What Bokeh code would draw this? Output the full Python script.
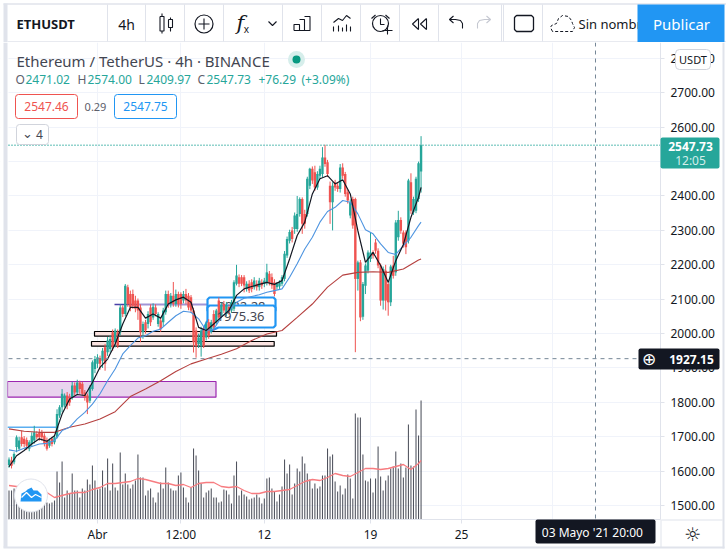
from bokeh.plotting import figure
from bokeh.layouts import column
from bokeh.models import (Label, BoxAnnotation, FixedTicker, NumeralTickFormatter, Range1d, ColumnDataSource)
from bokeh.core.properties import value
from bokeh.embed import file_html
from bokeh.resources import INLINE

# ---------- data ----------
opens = [1618,1631,1626,1670,1665,1699,1694,1691,1665,1679,
 1689,1708,1713,1713,1703,1689,1674,1694,1684,1699,
 1762,1786,1791,1820,1815,1815,1849,1829,1858,1854,
 1829,1820,1805,1839,1897,1912,1929,1921,1960,1946,
 1955,2004,1975,2004,2004,2076,2057,2135,2115,2115,
 2096,2096,2076,2004,2033,2028,2076,2047,2076,2028,
 2038,2033,2062,2115,2086,2110,2086,2115,2115,2096,
 2115,2110,2106,2067,2009,1970,1965,2009,1989,2033,
 2009,2057,2033,2096,2052,2086,2057,2077,2067,2072,
 2145,2164,2164,2164,2130,2145,2149,2135,2145,2135,
 2149,2145,2149,2174,2164,2149,2135,2137,2145,2159,
 2227,2270,2300,2304,2304,2348,2391,2348,2348,2430,
 2479,2469,2425,2459,2464,2512,2498,2430,2382,2440,
 2430,2420,2483,2464,2411,2343,2391,2391,2159,2207,
 2049,2139,2183,2217,2236,2265,2241,2198,2096,2183,
 2144,2091,2198,2178,2280,2330,2294,2294,2270,2440,
 2353,2357,2391,2471.02]
closes = [1634,1616,1650,1699,1689,1679,1679,1674,1684,1703,
 1713,1699,1699,1699,1679,1665,1689,1679,1699,1766,
 1786,1825,1820,1791,1800,1849,1829,1858,1839,1825,
 1815,1800,1844,1917,1926,1931,1912,1950,1912,1980,
 1984,1960,2009,1965,2076,2057,2139,2086,2076,2081,
 2072,2067,2004,2028,2009,2057,2033,2078,2057,2057,
 2013,2067,2115,2086,2110,2086,2115,2086,2086,2115,
 2096,2076,2067,1975,1965,1989,2009,1965,2028,1994,
 2033,2018,2067,2047,2082,2067,2082,2062,2091,2149,
 2169,2145,2145,2140,2145,2125,2130,2154,2135,2154,
 2140,2154,2178,2149,2140,2115,2145,2149,2164,2232,
 2275,2295,2275,2343,2348,2391,2319,2319,2450,2479,
 2445,2425,2464,2479,2512,2493,2464,2382,2430,2425,
 2420,2483,2459,2406,2387,2382,2314,2159,2207,2047,
 2144,2198,2236,2236,2227,2241,2198,2096,2188,2096,
 2091,2195,2168,2323,2330,2299,2261,2251,2445,2357,
 2391,2450,2495,2547.73]
highs = [1640,1642,1655,1704,1700,1718,1702,1698,1690,1713,
 1732,1716,1723,1720,1710,1698,1695,1700,1703,1780,
 1792,1839,1826,1830,1825,1860,1858,1866,1863,1860,
 1836,1826,1850,1922,1935,1940,1936,1958,1970,1990,
 1995,2012,2015,2012,2085,2082,2144,2142,2125,2128,
 2110,2102,2085,2035,2040,2065,2085,2088,2085,2062,
 2046,2075,2125,2125,2118,2150,2128,2122,2120,2124,
 2130,2118,2112,2075,2018,2000,2020,2018,2035,2042,
 2040,2068,2072,2105,2090,2095,2092,2085,2098,2155,
 2200,2172,2170,2170,2152,2155,2158,2164,2155,2162,
 2158,2162,2203,2182,2175,2158,2150,2155,2170,2240,
 2282,2302,2310,2352,2400,2396,2396,2360,2456,2482,
 2486,2488,2472,2488,2542,2549,2505,2442,2440,2447,
 2438,2493,2495,2470,2418,2390,2398,2395,2212,2214,
 2150,2204,2242,2294,2242,2275,2248,2204,2195,2200,
 2150,2200,2226,2330,2357,2338,2300,2300,2450,2466,
 2398,2456,2500,2574.00]
lows = [1610,1608,1620,1655,1660,1672,1670,1662,1658,1670,
 1680,1692,1689,1689,1672,1660,1668,1672,1678,1695,
 1755,1771,1785,1780,1790,1808,1820,1822,1825,1818,
 1805,1766,1798,1834,1885,1900,1895,1900,1892,1935,
 1945,1950,1960,1958,1995,2048,2050,2078,2065,2072,
 2062,2040,1975,1985,2000,2015,2022,2040,2050,2020,
 2005,2020,2055,2075,2076,2078,2078,2076,2072,2088,
 2085,2068,2060,1945,1930,1958,1933,1958,1980,1985,
 2000,2008,2025,2040,2045,2060,2050,2055,2060,2065,
 2140,2135,2138,2120,2122,2118,2120,2128,2125,2125,
 2130,2135,2140,2140,2130,2108,2128,2130,2138,2152,
 2220,2262,2265,2290,2296,2340,2290,2305,2340,2420,
 2435,2415,2418,2450,2455,2485,2455,2319,2300,2415,
 2412,2410,2450,2398,2378,2335,2305,1946,2125,2036,
 2040,2115,2175,2208,2218,2232,2190,2081,2070,2067,
 2052,2080,2160,2168,2270,2290,2250,2231,2262,2348,
 2345,2350,2383,2409.97]
volumes = [29,29,31,28,22,20,22,18,20,24,
 20,18,24,21,20,17,16,17,19,
 48,37,58,22,29,26,46,29,29,22,31,29,40,35,54,39,30,31,49,32,
 61,29,56,32,29,67,35,46,35,31,35,39,65,42,42,24,29,31,22,17,
 27,37,31,52,37,31,29,29,44,47,32,22,17,32,71,64,49,36,22,27,
 29,31,22,22,17,
 18,30,29,25,16,44,58,24,29,25,23,20,21,22,25,22,16,21,41,42,
 31,28,18,25,33,60,46,55,25,36,51,48,63,56,46,40,31,36,31,33,
 44,44,71,63,65,38,28,34,25,31,45,41,21,106,102,102,65,39,38,41,
 27,41,73,43,29,39,44,51,53,68,51,56,42,52,95,54,53,110,84,119]

ma_idx_3 = list(range(0, 163, 3)) + [163]
ma_idx_6 = list(range(0, 163, 6)) + [163]
ma_fast = [1613,1645,1660,1679,1694,1687,1703,1766,1810,1823,1820,1858,1902,1926,1970,2028,2076,2076,2045,2057,
 2045,2086,2098,2106,2091,2018,2009,2028,2048,2067,2111,2130,2137,2143,2149,2143,2154,2217,2285,2324,
 2406,2450,2459,2435,2447,2406,2299,2207,2236,2198,2149,2212,2259,2338,2396,2425]
ma_mid = [1662,1658,1667,1672,1679,1681,1689,1718,1728,1752,1771,1795,1825,1863,1897,1941,1965,1987,1994,2007,
 2013,2033,2052,2065,2062,2043,2009,2013,2048,2067,2091,2103,2108,2113,2120,2125,2130,2164,2203,2246,
 2280,2324,2355,2367,2387,2382,2348,2302,2290,2261,2236,2230,2256,2280,2314,2324]
ma_slow = [1723,1716,1713,1713,1728,1737,1752,1773,1817,1839,1863,1890,1912,1926,1940,1956,1980,1999,2009,2047,
 2086,2135,2170,2178,2180,2178,2188,2214,2217]
vol_ma = [34,33,33,31,30,27,22,24,26,27,27,30,32,36,36,37,38,41,40,38,36,36,34,35,32,36,37,37,33,32,33,29,26,26,
 28,28,29,30,34,38,40,39,42,46,44,43,47,51,51,50,51,53,55,50,56,59]
assert len(opens) == len(closes) == len(highs) == len(lows) == len(volumes) == 164
assert len(ma_fast) == len(ma_mid) == len(vol_ma) == len(ma_idx_3)
assert len(ma_slow) == len(ma_idx_6)

price_ticks = [1500,1600,1700,1800,1900,2000,2100,2200,2300,2400,2500,2600,2700,2800]
time_ticks = [35, 68, 101, 143, 179, 215]
time_labels = {35: "Abr", 68: "12:00", 101: "12", 143: "19", 179: "25", 215: ""}
last_price = 2547.73
cross_price = 1927.15
cross_bar = 232

FONT = "Noto Sans"
GREEN, RED, BLUE, DARK = "#26a69a", "#ef5350", "#2196f3", "#131722"
SEP = "#e0e3eb"

# pixel helpers for annotations (positions in the screenshot -> axis units)
def X(px): return (px - 8.5) / 2.528
def Y(py): return 2700 - (py - 92.3) * 2.907

# ---------- toolbar strip ----------
tb = figure(width=726, height=42, x_range=(0, 726), y_range=(42, 0), output_backend="svg",
            toolbar_location=None, min_border=0, outline_line_color=None)
tb.axis.visible = False
tb.grid.visible = False
tb.quad(left=[3], right=[7], top=[3], bottom=[42], fill_color=SEP, line_color=None)
tb.line([3, 726], [3.5, 3.5], line_color=SEP, line_width=1.5)
for sx in [107, 145, 184, 223, 282, 321, 360, 399, 438, 501, 503, 542]:
    tb.line([sx, sx], [4, 41], line_color=SEP, line_width=1)
tb.line([7, 726], [41.5, 41.5], line_color=SEP, line_width=1.5)
def tbtext(x, y, s, size, color=DARK, style="normal", align="left", font=FONT):
    tb.text([x], [y], text=[s], text_font=value(font), text_font_size=size, text_color=color,
            text_font_style=style, text_align=align, text_baseline="middle")
def ic(xs, ys, color=DARK, w=1.1, dash="solid"):
    tb.line(xs, ys, line_color=color, line_width=w, line_dash=dash)
tbtext(16, 23.5, "ETHUSDT", "13px", style="bold")
tbtext(126, 23.5, "4h", "14px", align="center")
# candles icon
ic([159.5,163.5,163.5,159.5,159.5],[16,16,30.5,30.5,16]); ic([161.5,161.5],[13,16]); ic([161.5,161.5],[30.5,33])
ic([168,172,172,168,168],[19,19,27,27,19]); ic([170,170],[17,19]); ic([170,170],[27,31])
# plus circle
tb.scatter([203.5],[23.5],size=18,marker="circle",fill_color=None,line_color=DARK,line_width=1.2)
ic([198,209],[23.5,23.5]); ic([203.5,203.5],[18,29])
# fx
tbtext(240, 22, "f", "21px", style="italic", align="center", font="DejaVu Serif")
tbtext(246, 28, "x", "10px", align="center")
ic([268,272,276],[21,25,21])
# bars icon
ic([293.5,299,299,293.5,293.5],[30,30,24,24,30]); ic([299,304,304,299],[30,30,19,19]); ic([304,309.5,309.5,304],[30,30,16,16]); ic([293.5,309.5],[30,30])
# indicators
ic([333,338,342,346,350],[22,18,20,15,18])
for ix, top in zip([333,338,342,346,350],[26,25,27,24,26]):
    ic([ix,ix],[top,31])
# alarm
tb.scatter([380],[23],size=16,marker="circle",fill_color=None,line_color=DARK,line_width=1.2)
ic([380,380,384],[18,24,24]); ic([371,375],[18,14.5]); ic([385,389],[14.5,18]); ic([382,392],[30,30]); ic([387,387],[25,34])
# rewind
ic([418,412,418,418],[18,23.5,29,18]); ic([426,420,426,426],[18,23.5,29,18])
# undo / redo
ic([449,453,449,453],[19,15.5,19,22.5]); ic([449,455,460,462,462],[19,19,20,23,28])
ic([490,486,490,486],[19,15.5,19,22.5],color="#c5c8d1"); ic([490,484,479,477,477],[19,19,20,23,28],color="#c5c8d1")
# square
ic([516,531,533,533,531,516,514,514,516],[15,15,17,29,31,31,29,17,15],w=1.3)
# cloud
ic([552,550,551,556,558,562,568,571,572,574,572,552],[31,27,25,23,18,15,16,20,23,27,31,31],w=1,dash="3 2")
tbtext(578, 23.5, "Sin nombre", "13px")
tb.quad(left=[637], right=[724], top=[4], bottom=[42], fill_color=BLUE, line_color=None)
tbtext(681, 23.5, "Publicar", "15px", color="white", align="center")

# ---------- main chart: the frame fills the page, the axes sit at fixed places inside it ----------
p = figure(width=726, height=507, x_range=Range1d(X(0), X(726)), y_range=Range1d(Y(549), Y(42)),
           y_axis_location="right", output_backend="svg", toolbar_location=None,
           min_border=0, outline_line_color=None)
p.extra_y_ranges = {"vol": Range1d(-30, 477)}

p.yaxis.ticker = FixedTicker(ticks=price_ticks)
p.yaxis.formatter = NumeralTickFormatter(format="0.00")
p.xaxis.ticker = FixedTicker(ticks=time_ticks)
p.xaxis.major_label_overrides = time_labels
for ax in (p.xaxis[0], p.yaxis[0]):
    ax.axis_line_color = SEP
    ax.major_tick_line_color = SEP
    ax.minor_tick_line_color = None
    ax.major_tick_out = 4
    ax.major_tick_in = 0
    ax.major_label_text_font = FONT
    ax.major_label_text_font_size = "12px"
    ax.major_label_text_color = DARK
    ax.major_label_standoff = 6
p.xaxis[0].major_label_standoff = 2
p.yaxis[0].fixed_location = X(660)
p.xaxis[0].fixed_location = Y(519)
p.yaxis[0].bounds = (Y(519), Y(42))
p.xaxis[0].bounds = (X(8), X(660))
p.xgrid.grid_line_color = "#f0f3fa"
p.ygrid.grid_line_color = "#f0f3fa"
p.xgrid.ticker = FixedTicker(ticks=time_ticks)
p.ygrid.ticker = FixedTicker(ticks=price_ticks)

# white masks so the grid stops at the plot area
p.quad(left=[X(660)], right=[X(726)], top=[Y(42)], bottom=[Y(549)], fill_color="white", line_color=None)
p.quad(left=[X(0)], right=[X(726)], top=[Y(519)], bottom=[Y(549)], fill_color="white", line_color=None)
p.quad(left=[X(0)], right=[X(8)], top=[Y(42)], bottom=[Y(549)], fill_color="white", line_color=None)

# drawn objects beneath the series
p.quad(left=[X(7)], right=[X(215.5)], top=[Y(381)], bottom=[Y(396.7)], fill_color="#e9d3ee",
       line_color="#9c27b0", line_width=1.2)
p.quad(left=[X(94)], right=[X(276)], top=[Y(331)], bottom=[Y(335.7)], fill_color="#fbe3e1",
       line_color="black", line_width=1.2)
p.quad(left=[X(91)], right=[X(273.7)], top=[Y(341)], bottom=[Y(345.7)], fill_color="#fbe3e1",
       line_color="black", line_width=1.2)
p.line([X(114), X(137)], [Y(304), Y(304)], line_color="#4a3fa8", line_width=1.3)
p.line([X(137), X(207)], [Y(304), Y(304)], line_color="#a195d6", line_width=2)
p.line([X(7), X(58)], [Y(426.7), Y(426.7)], line_color="#5aaef0", line_width=1.5)
def callout(xs, ys):
    p.patch([X(v) for v in xs], [Y(v) for v in ys], fill_color="white", line_color=BLUE, line_width=2.2)
callout([209,273,275,275,273,209,207,207], [297,297,299,310,312,312,310,299])
p.text([X(241)], [Y(306)], text=["2082.28"], text_font=value(FONT), text_font_size="13px",
       text_color="#434651", text_align="center", text_baseline="middle")
callout([209,273,275,275,273,218,200,207,207], [305,305,307,325,327,327,335,320,307])

bars = list(range(len(opens)))
colors = [GREEN if c >= o else RED for o, c in zip(opens, closes)]
src = ColumnDataSource(dict(i=bars, o=opens, c=closes, h=highs, l=lows, v=volumes, col=colors))
p.vbar(x="i", bottom=0, top="v", width=0.42, source=src, y_range_name="vol", fill_color="#50535e", line_color=None)
p.line(ma_idx_3, vol_ma, y_range_name="vol", line_color="#f77c80", line_width=1.3)
p.segment(x0="i", x1="i", y0="l", y1="h", line_color="col", line_width=1, source=src)
p.vbar(x="i", bottom="o", top="c", width=0.95, fill_color="col", line_color=None, source=src)
p.text([X(240)], [Y(316)], text=["1975.36"], text_font=value(FONT), text_font_size="13px",
       text_color="#434651", text_align="center", text_baseline="middle")
p.line(ma_idx_6, ma_slow, line_color="#b5403f", line_width=1.1)
p.line(ma_idx_3, ma_mid, line_color="#4d94e0", line_width=1.1)
p.line(ma_idx_3, ma_fast, line_color=DARK, line_width=1.2)

# lines across the plot
p.line([X(8), X(660)], [last_price, last_price], line_color=GREEN, line_dash="1 2", line_width=1.5)
p.line([X(8), X(638)], [cross_price, cross_price], line_color="#758696", line_dash="4 4", line_width=1)
p.line([cross_bar, cross_bar], [Y(42), Y(519)], line_color="#758696", line_dash="4 4", line_width=1)

# logo on the volume pane
p.scatter([X(30.5)], [Y(495)], size=33, marker="circle", fill_color="white", line_color="#e0e3eb", line_width=1)
p.patch([X(v) for v in [20,21,25,27,31,33,37,41,41,20]], [Y(v) for v in [501,493,491,489,487,490,490,494,501,501]],
        fill_color=BLUE, line_color=None)
p.line([X(v) for v in [21,26,31,35,41]], [Y(v) for v in [497,492,497,494,497]], line_color="white", line_width=1.3)

def lab(px, py, s, size="12px", color=DARK, style="normal", align="left", font=FONT):
    p.add_layout(Label(x=X(px), y=Y(py), text=s, text_font=font, text_font_size=size, text_color=color,
                       text_font_style=style, text_align=align, text_baseline="middle"))
def box(x0, x1, y0, y1, fill, line=None, radius=2):
    p.add_layout(BoxAnnotation(left=X(x0), right=X(x1), top=Y(y0), bottom=Y(y1), fill_color=fill, fill_alpha=1,
                               line_color=line, line_alpha=1, border_radius=radius))

# window edges
box(3, 7, 42, 547, SEP, None, 0)
box(3, 724, 546, 548, SEP, None, 0)
box(722, 724, 42, 548, SEP, None, 0)
box(660, 661, 519, 547, SEP, None, 0)
box(661, 722, 519, 520, SEP, None, 0)

# legend block
lab(16, 60, "Ethereum / TetherUS · 4h · BINANCE", size="15px", color="#434651")
p.scatter([X(296)], [Y(59)], size=17, marker="circle", fill_color="#d6eeeb", line_color=None)
p.scatter([X(296)], [Y(59)], size=8, marker="circle", fill_color="#089981", line_color=None)
for px, s, c in [(15,"O","#5d606b"),(25,"2471.02",GREEN),(77,"H","#5d606b"),(87,"2574.00",GREEN),
                 (138,"L","#5d606b"),(146,"2409.97",GREEN),(197,"C","#5d606b"),(206,"2547.73",GREEN),
                 (258,"+76.29",GREEN),(301,"(+3.09%)",GREEN)]:
    lab(px, 79, s, color=c)
box(15, 77, 94, 118, "white", RED, 3)
lab(46, 106, "2547.46", size="12px", color=RED, align="center")
lab(95, 106, "0.29", size="11px", color="#5d606b", align="center")
box(114, 176, 94, 118, "white", BLUE, 3)
lab(145, 106, "2547.75", size="12px", color=BLUE, align="center")
box(16, 48, 124, 144, "white", "#d1d4dc", 3)
lab(27, 133, "⌄", size="13px", color="#434651", align="center", font="DejaVu Sans")
lab(39, 134, "4", size="12px", color="#434651", align="center")

# axis tags
box(675, 710, 49, 69, "white", "#d1d4dc", 4)
lab(692.5, 59, "USDT", size="11px", align="center")
box(660, 719, 137, 168, GREEN, None, 2)
lab(690, 145.5, "2547.73", color="white", style="bold", align="center")
lab(690, 160, "12:05", color="#d4eeeb", align="center")
box(638, 719, 348, 369, DARK, None, 2)
lab(648.7, 358, "⊕", size="17px", color="white", align="center", font="DejaVu Sans")
lab(691, 358.5, "1927.15", color="white", style="bold", align="center")
box(535, 655, 519, 543, DARK, None, 2)
lab(595, 532, "03 Mayo '21   20:00", color="white", align="center")
lab(692, 533, "☼", size="19px", align="center", font="DejaVu Sans")

page = column(tb, p, spacing=0)
open("out.html", "w").write(file_html(page, INLINE))
